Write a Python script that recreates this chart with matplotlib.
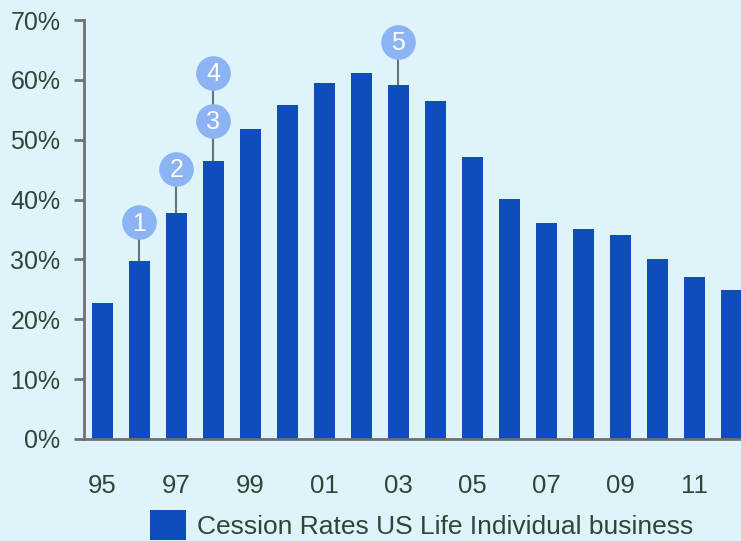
import matplotlib.pyplot as plt
import numpy as np

years = ["95", "96", "97", "98", "99", "00", "01", "02", "03",
         "04", "05", "06", "07", "08", "09", "10", "11", "12"]
cession_rates = [22.7, 29.7, 37.8, 46.4, 51.8, 55.8, 59.5, 61.1, 59.1,
                 56.5, 47.1, 40.1, 36.1, 35.1, 34.1, 30.1, 27.1, 24.9]

# numbered callouts: (label, year, marker height)
callout_labels = ["1", "2", "3", "4", "5"]
callout_years = ["96", "97", "98", "98", "03"]
callout_heights = [36.2, 45.1, 53.1, 61.1, 66.3]

bg = "#dff3fa"
bar_color = "#0f4dbc"
bubble_color = "#8cb4f5"
text_color = "#2f4538"
axis_color = "#707070"

plt.rcParams["font.family"] = ["Liberation Sans", "DejaVu Sans"]

fig = plt.figure(figsize=(7.41, 5.41), dpi=100, facecolor=bg)
ax = fig.add_axes([84 / 741, 102 / 541, 1 - 84 / 741, 419 / 541])
ax.set_facecolor(bg)

x = np.arange(len(years))
ax.bar(x, cession_rates, width=0.57, color=bar_color, zorder=2,
       label="Cession Rates US Life Individual business")

for lab, yr, h in zip(callout_labels, callout_years, callout_heights):
    i = years.index(yr)
    base = cession_rates[i]
    ax.plot([i, i], [base, h], color="#5f7a72", lw=1.5, zorder=1)
    ax.scatter([i], [h], s=620, color=bubble_color, zorder=3, linewidths=0)
    ax.text(i, h - 0.2, lab, ha="center", va="center", color="white",
            fontsize=18, zorder=4)

ax.set_xlim(-0.5, 17.26)
ax.set_ylim(0, 70)
ax.set_yticks(range(0, 71, 10))
ax.set_yticklabels([f"{v}%" for v in range(0, 71, 10)])
ax.set_xticks(x[::2])
ax.set_xticklabels(years[::2])

for side in ["top", "right"]:
    ax.spines[side].set_visible(False)
for side in ["left", "bottom"]:
    ax.spines[side].set_color(axis_color)
    ax.spines[side].set_linewidth(2)

ax.tick_params(axis="y", colors=axis_color, labelcolor=text_color,
               labelsize=18, length=7, width=2, pad=10)
ax.tick_params(axis="x", length=0, labelcolor=text_color, labelsize=18.5, pad=25)

ax.legend(loc="upper left", bbox_to_anchor=(0.085, -0.145), frameon=False,
          fontsize=19, labelcolor=text_color, handlelength=1.35,
          handleheight=1.35, handletextpad=0.4, borderaxespad=0)

fig.savefig("out.png", dpi=100, facecolor=bg)
